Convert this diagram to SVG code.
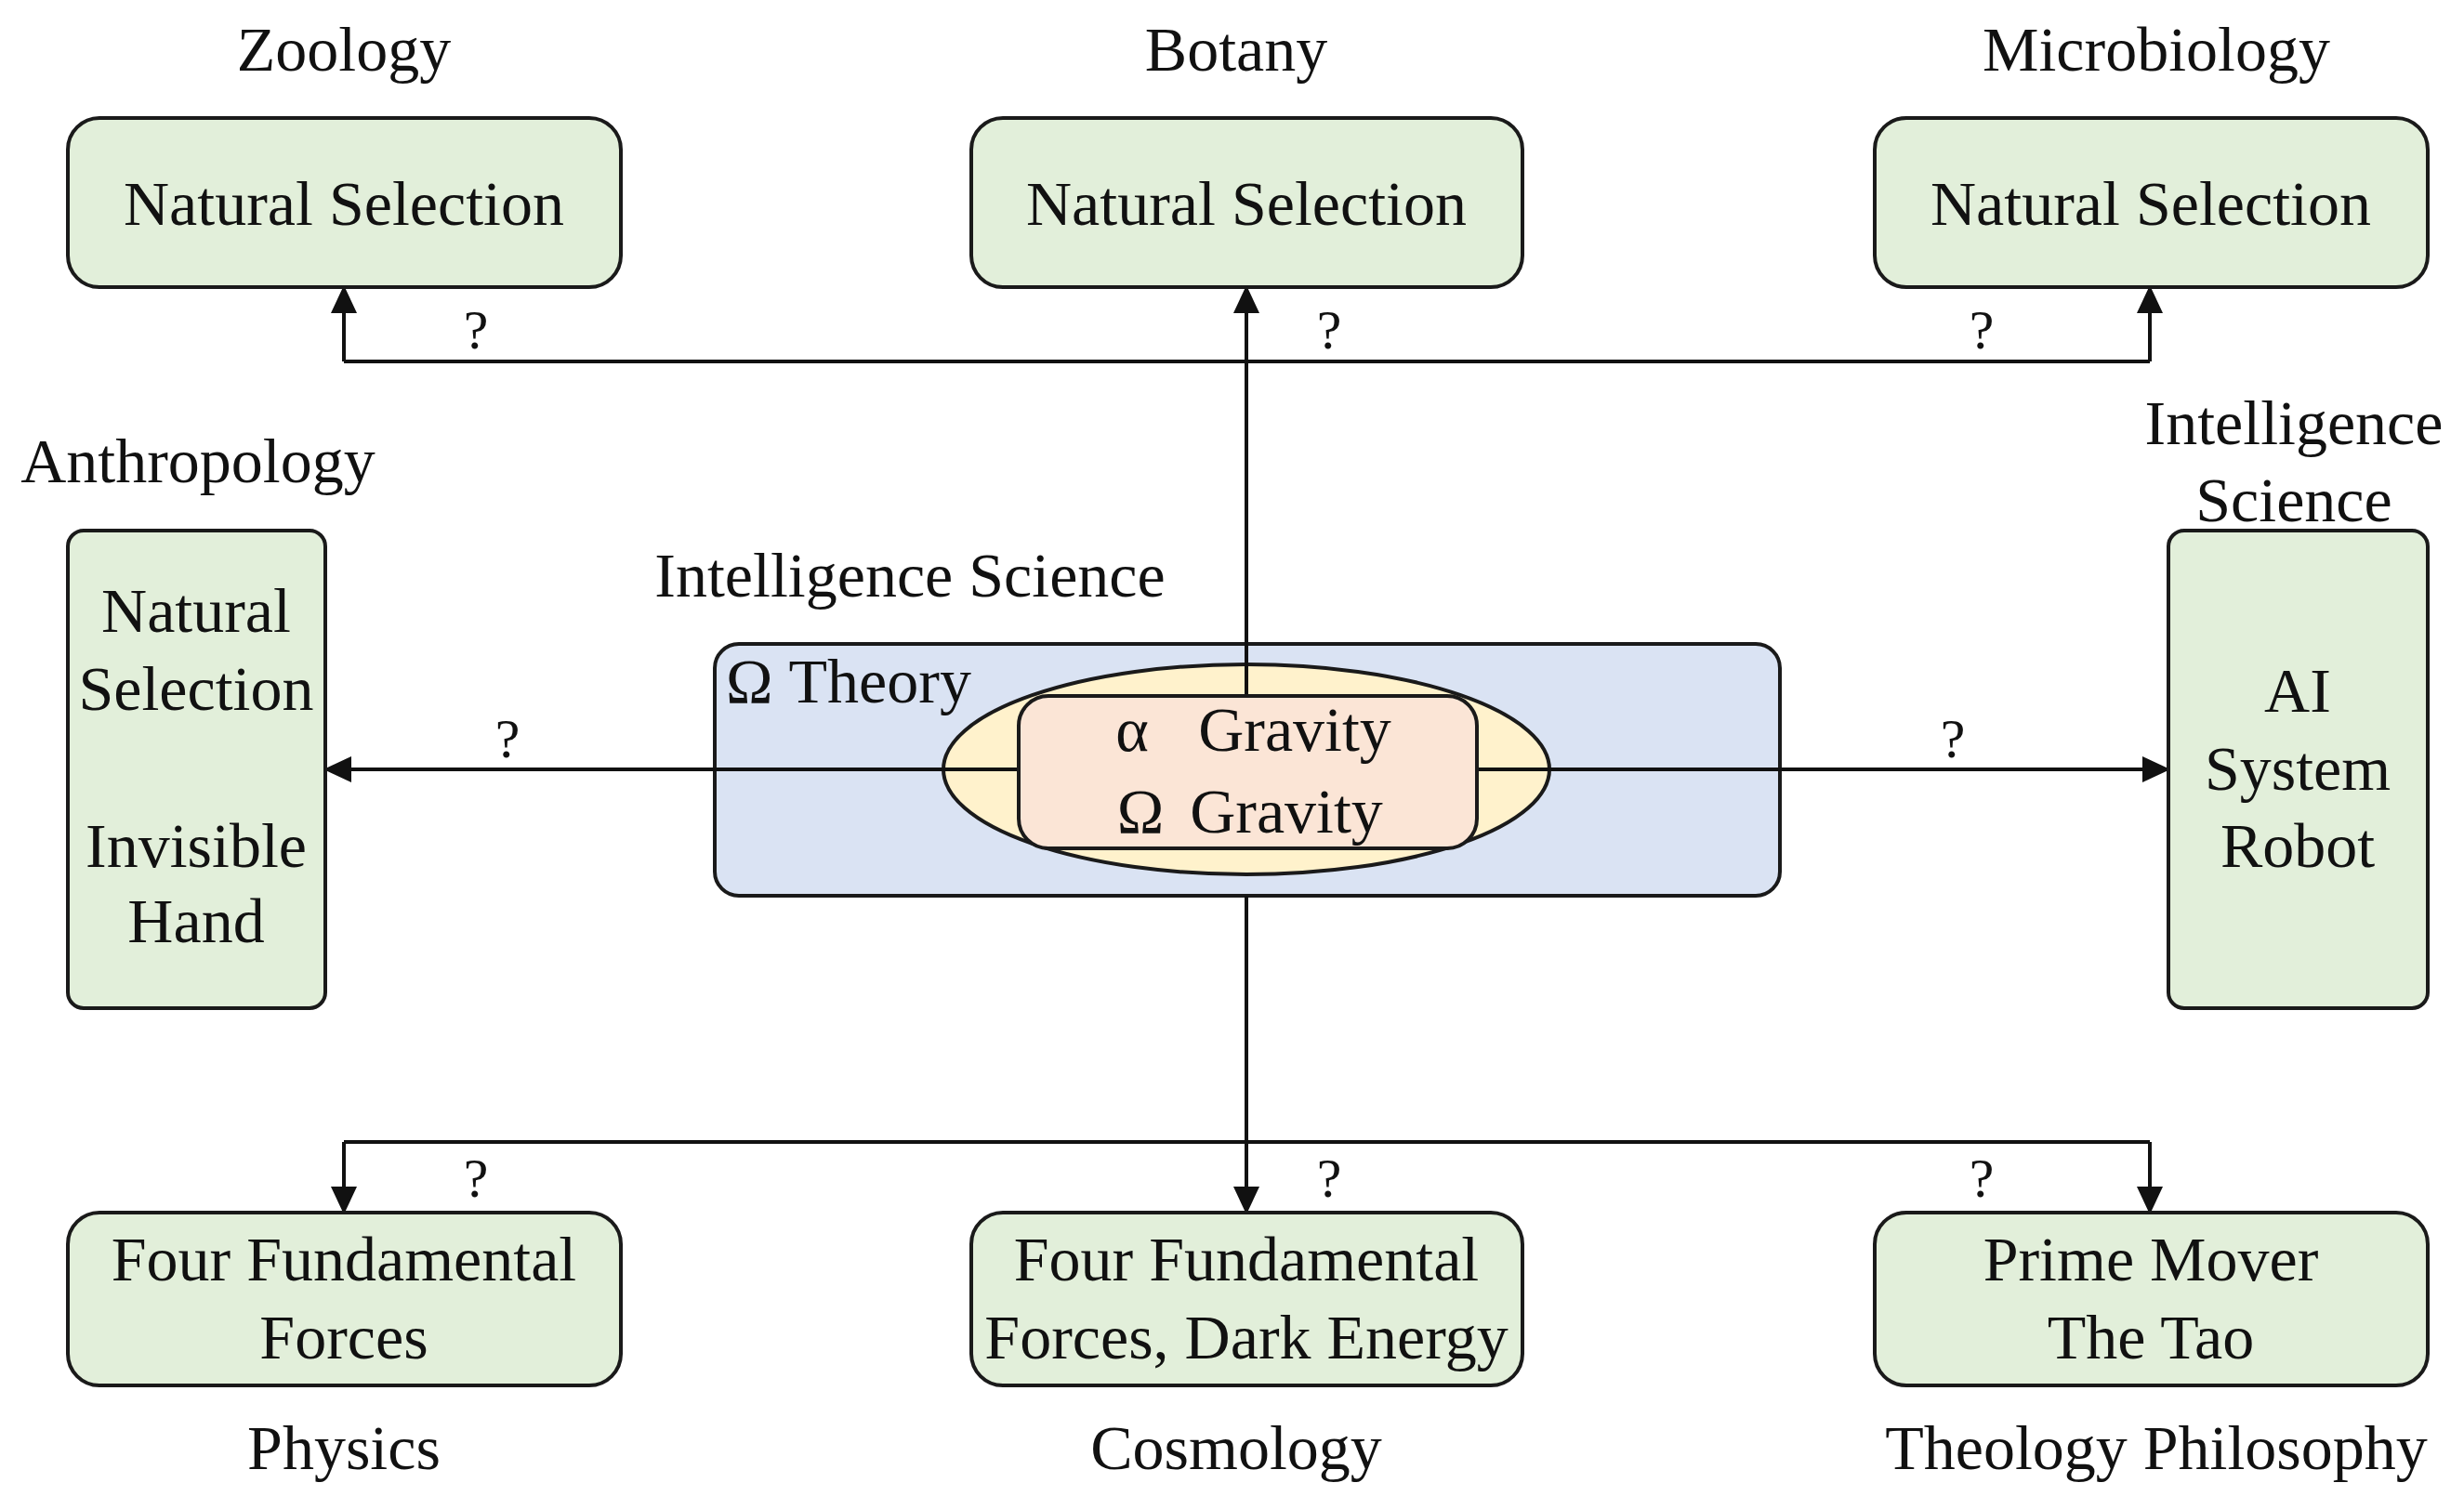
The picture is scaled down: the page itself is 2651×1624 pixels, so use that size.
<svg xmlns="http://www.w3.org/2000/svg" width="2651" height="1624" viewBox="0 0 2651 1624">
<style>
text{font-family:"Liberation Serif","Times New Roman",serif;font-size:68px;fill:#111;text-anchor:middle}
text.start{text-anchor:start}
.q{font-size:60px}
.box{fill:#e2efda;stroke:#1a1a1a;stroke-width:4}
.conn{fill:none;stroke:#111;stroke-width:4}
</style>
<defs>
<marker id="arr" markerUnits="userSpaceOnUse" markerWidth="32" markerHeight="28" refX="28" refY="14" orient="auto">
<path d="M0,0 L30,14 L0,28 Z" fill="#111"/>
</marker>
</defs>
<rect width="2651" height="1624" fill="#fff"/>

<g id="center">
<rect x="769" y="693" width="1146" height="271" rx="26" fill="#dae3f3" stroke="#1a1a1a" stroke-width="4"/>
<ellipse cx="1341" cy="828" rx="326" ry="113" fill="#fff2cc" stroke="#1a1a1a" stroke-width="4"/>
<text class="start" x="781" y="756">Ω  Theory</text>
<text x="979" y="642">Intelligence Science</text>
</g>

<g id="connectors">
<path class="conn" d="M1341,749 L1341,389"/>
<path class="conn" d="M370,389 L2313,389"/>
<path class="conn" d="M370,389 L370,309" marker-end="url(#arr)"/>
<path class="conn" d="M1341,389 L1341,309" marker-end="url(#arr)"/>
<path class="conn" d="M2313,389 L2313,309" marker-end="url(#arr)"/>
<path class="conn" d="M1096,828 L350,828" marker-end="url(#arr)"/>
<path class="conn" d="M1589,828 L2333,828" marker-end="url(#arr)"/>
<path class="conn" d="M1341,964 L1341,1305" marker-end="url(#arr)"/>
<path class="conn" d="M370,1229 L2313,1229"/>
<path class="conn" d="M370,1229 L370,1305" marker-end="url(#arr)"/>
<path class="conn" d="M2313,1229 L2313,1305" marker-end="url(#arr)"/>
<text class="q" x="512" y="375">?</text>
<text class="q" x="1430" y="375">?</text>
<text class="q" x="2132" y="375">?</text>
<text class="q" x="546" y="815">?</text>
<text class="q" x="2101" y="815">?</text>
<text class="q" x="512" y="1288">?</text>
<text class="q" x="1430" y="1288">?</text>
<text class="q" x="2132" y="1288">?</text>
</g>

<g id="gravity">
<rect x="1096" y="749" width="493" height="164" rx="32" fill="#fbe5d6" stroke="#1a1a1a" stroke-width="4"/>
<text x="1218" y="808">α</text>
<text x="1393" y="808">Gravity</text>
<text x="1227" y="896">Ω</text>
<text x="1384" y="896">Gravity</text>
</g>

<g id="zoology">
<text x="370" y="76">Zoology</text>
<rect class="box" x="73" y="127" width="595" height="182" rx="34"/>
<text x="370" y="242">Natural Selection</text>
</g>
<g id="botany">
<text x="1330" y="76">Botany</text>
<rect class="box" x="1045" y="127" width="593" height="182" rx="34"/>
<text x="1341" y="242">Natural Selection</text>
</g>
<g id="microbiology">
<text x="2320" y="76">Microbiology</text>
<rect class="box" x="2017" y="127" width="595" height="182" rx="34"/>
<text x="2314" y="242">Natural Selection</text>
</g>

<g id="anthropology">
<text x="213" y="519">Anthropology</text>
<rect class="box" x="73" y="571" width="277" height="514" rx="17"/>
<text x="211" y="680">Natural</text>
<text x="211" y="764">Selection</text>
<text x="211" y="933">Invisible</text>
<text x="211" y="1014">Hand</text>
</g>
<g id="intelligence">
<text x="2468" y="478">Intelligence</text>
<text x="2468" y="561">Science</text>
<rect class="box" x="2333" y="571" width="279" height="514" rx="17"/>
<text x="2472" y="766">AI</text>
<text x="2472" y="850">System</text>
<text x="2472" y="933">Robot</text>
</g>

<g id="physics">
<rect class="box" x="73" y="1305" width="595" height="186" rx="34"/>
<text x="370" y="1378">Four Fundamental</text>
<text x="370" y="1462">Forces</text>
<text x="370" y="1581">Physics</text>
</g>
<g id="cosmology">
<rect class="box" x="1045" y="1305" width="593" height="186" rx="34"/>
<text x="1341" y="1378">Four Fundamental</text>
<text x="1341" y="1462">Forces, Dark Energy</text>
<text x="1330" y="1581">Cosmology</text>
</g>
<g id="theology">
<rect class="box" x="2017" y="1305" width="595" height="186" rx="34"/>
<text x="2314" y="1378">Prime Mover</text>
<text x="2314" y="1462">The Tao</text>
<text x="2320" y="1581">Theology Philosophy</text>
</g>
</svg>
